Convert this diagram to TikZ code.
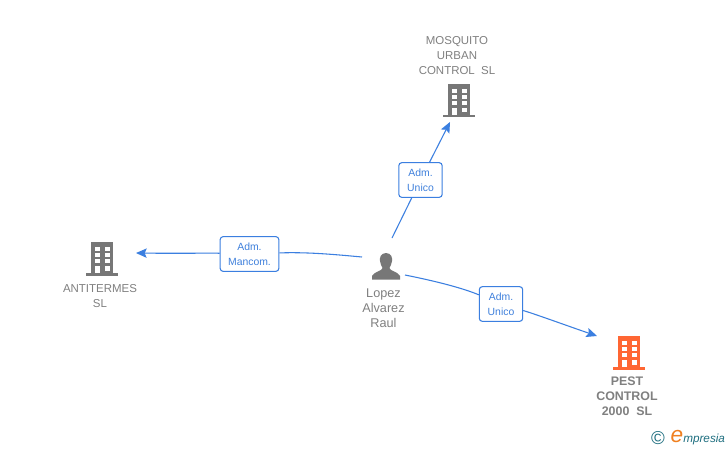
\documentclass[tikz,border=0pt]{standalone}
\usepackage{fontspec}
\setmainfont{Liberation Sans}
\usetikzlibrary{arrows.meta}
\definecolor{nametxt}{HTML}{808080}
\definecolor{iconcol}{HTML}{777777}
\definecolor{hotcol}{HTML}{FF6633}
\definecolor{linkcol}{HTML}{3B7FE0}
\definecolor{labtxt}{HTML}{3F80DC}
\definecolor{logoteal}{HTML}{1F6F80}
\definecolor{logoorange}{HTML}{F08020}
\tikzset{
  x=0.75pt,y=-0.75pt,
  nameblock/.style={text=nametxt,font=\fontsize{8.6pt}{11.25pt}\selectfont,align=center,inner sep=0pt},
  personname/.style={nameblock,font=\fontsize{9.5pt}{11.25pt}\selectfont},
  namebold/.style={nameblock,font=\fontsize{9.3pt}{11.25pt}\selectfont\bfseries},
  linkbox/.style={draw=linkcol,line width=0.8pt,rounded corners=2.2pt,fill=white,text=labtxt,
    font=\fontsize{7.8pt}{11.25pt}\selectfont,align=center,inner sep=0pt,minimum height=26pt},
  linkline/.style={draw=linkcol,line width=0.8pt},
  linkarrow/.style={linkline,-{Stealth[length=8pt,width=7pt,inset=1.5pt]}},
  pics/building/.style={code={
    \fill[#1] (-11,-17) rectangle (11,14);
    \fill[#1] (-16,14) rectangle (16,16.5);
    \foreach \yy in {-12,-6,0}{
      \fill[white] (-7,\yy) rectangle (-2,\yy+4);
      \fill[white] (3,\yy) rectangle (8,\yy+4);
    }
    \fill[white] (3,7) rectangle (8,11.5);
    \fill[white] (-7,7) rectangle (-2,14);
  }}
}
\begin{document}
\begin{tikzpicture}
\useasboundingbox (0,0) rectangle (728,450);
\fill[white] (0,0) rectangle (728,450);

% icons
\pic at (459,100.5) {building=iconcol};
\pic at (102,259) {building=iconcol};
\pic at (629,353) {building=hotcol};
\fill[iconcol] (386,253) .. controls (380.5,253) and (379.5,258) .. (380,261)
  .. controls (380.3,264) and (381.5,266) .. (382.5,268)
  .. controls (382.5,271) and (374,271.5) .. (372,276)
  -- (372,279.5) -- (400,279.5) -- (400,276)
  .. controls (398,271.5) and (389.5,271) .. (389.5,268)
  .. controls (390.5,266) and (391.7,264) .. (392,261)
  .. controls (392.5,258) and (391.5,253) .. (386,253) -- cycle;

% names
\node[nameblock] (mosquito) at (457,56) {MOSQUITO\\URBAN\\CONTROL\ \ SL};
\node[nameblock] (antitermes) at (100,296.5) {ANTITERMES\\SL};
\node[personname] (lopez) at (383.5,308.5) {Lopez\\Alvarez\\Raul};
\node[namebold] (pest) at (627,396.5) {PEST\\CONTROL\\2000\ \ SL};

% anchors for the connector ends
\coordinate (srcM) at (392,238);
\coordinate (srcA) at (362,257);
\coordinate (srcP) at (405,275);
\coordinate (tipM) at (450,122);
\coordinate (tipA) at (136,253);
\coordinate (tipP) at (597,336);

% link labels
\node[linkbox,minimum width=32.5pt] (boxM) at (420.5,180) {Adm.\\Unico};
\node[linkbox,minimum width=44pt] (boxA) at (249.5,254) {Adm.\\Mancom.};
\node[linkbox,minimum width=32.5pt] (boxP) at (501,304) {Adm.\\Unico};

% connectors
\draw[linkline] (srcM) -- (boxM);
\draw[linkarrow] (boxM) -- (tipM);
\draw[linkline] (srcA) .. controls (330,254) and (305,252) .. (boxA);
\draw[linkarrow] (boxA) .. controls (210,253) and (175,253.5) .. (tipA);
\draw[linkline] (srcP) .. controls (430,280) and (460,287) .. (boxP);
\draw[linkarrow] (boxP) .. controls (535,314) and (565,325) .. (tipP);

% logo
\node[text=logoteal,inner sep=0pt,font=\fontsize{14pt}{14pt}\selectfont] (copyr) at (658,438.5) {©};
\node[text=logoorange,inner sep=0pt,font=\fontsize{17pt}{17pt}\selectfont\itshape] (logoe) at (677,437) {e};
\node[text=logoteal,inner sep=0pt,anchor=west,font=\fontsize{8.8pt}{10pt}\selectfont\itshape] (logotxt) at (683,439.5) {mpresia};
\end{tikzpicture}
\end{document}
